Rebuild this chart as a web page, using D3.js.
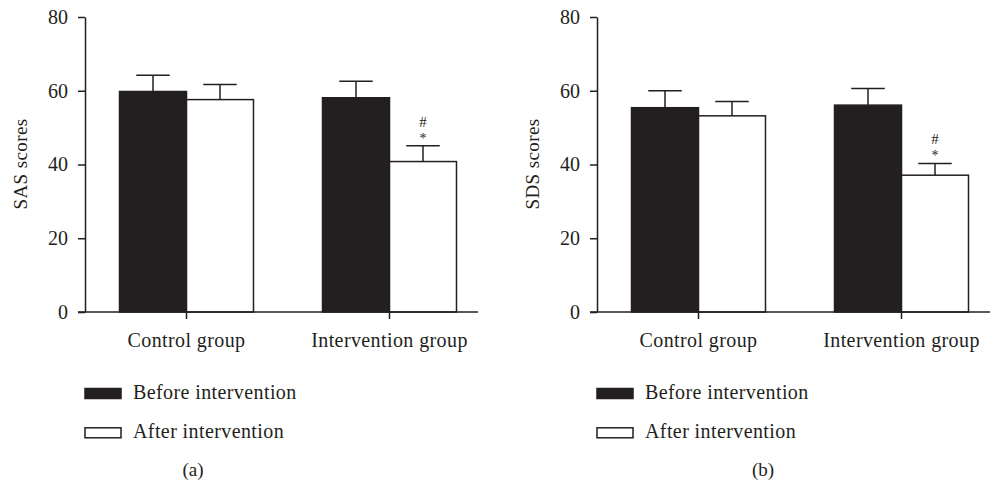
<!DOCTYPE html>
<html>
<head>
<meta charset="utf-8">
<script src="https://cdn.jsdelivr.net/npm/d3@7"></script>
<style>
body { margin: 0; background: #fff; }
svg { display: block; }
text { font-family: "Liberation Serif", "Times New Roman", serif; fill: #231f20; }
</style>
</head>
<body>
<svg id="chart" width="995" height="485" font-family="Liberation Serif, serif"></svg>
<script>
// Groups and series
var groups = ['Control group', 'Intervention group'];
var series_names = ['Before intervention', 'After intervention'];
var y_ticks = [0, 20, 40, 60, 80];

// SAS scores (mean, upper SD)
var sas_before = [59.8, 58.1];
var sas_before_sd = [4.4, 4.5];
var sas_after = [57.6, 40.8];
var sas_after_sd = [4.1, 4.3];

// SDS scores (mean, upper SD)
var sds_before = [55.4, 56.1];
var sds_before_sd = [4.6, 4.5];
var sds_after = [53.2, 37.1];
var sds_after_sd = [3.9, 3.2];

// significance marks shown over the "after" bar of each group
var sig_marks = [[], ['#', '*']];

var ink = '#231f20';
var svg = d3.select('#chart');

function draw_panel(left, title, label, label_x, before, before_sd, after, after_sd) {
    var g = svg.append('g').attr('transform', 'translate(' + left + ',0)');
    var y = d3.scaleLinear().domain([0, 80]).range([312, 17]);
    var x = d3.scaleBand().domain(groups).range([0, 406])
        .paddingInner(0.34).paddingOuter(0.17);
    var xs = d3.scaleBand().domain(series_names).range([0, x.bandwidth()]);

    var rows = [];
    groups.forEach(function (grp, i) {
        rows.push({ group: grp, series: series_names[0], value: before[i], sd: before_sd[i], marks: [] });
        rows.push({ group: grp, series: series_names[1], value: after[i], sd: after_sd[i], marks: sig_marks[i] });
    });

    // bars
    g.selectAll('.bar').data(rows).enter().append('rect')
        .attr('class', 'bar')
        .attr('x', function (d) { return x(d.group) + xs(d.series); })
        .attr('y', function (d) { return y(d.value); })
        .attr('width', xs.bandwidth())
        .attr('height', function (d) { return y(0) - y(d.value); })
        .attr('fill', function (d) { return d.series === series_names[0] ? ink : '#fff'; })
        .attr('stroke', ink)
        .attr('stroke-width', 1.5);

    // error bars (upper only)
    var eb = g.selectAll('.err').data(rows).enter().append('g').attr('class', 'err')
        .attr('stroke', ink).attr('stroke-width', 1.5);
    eb.append('line')
        .attr('x1', function (d) { return x(d.group) + xs(d.series) + xs.bandwidth() / 2; })
        .attr('x2', function (d) { return x(d.group) + xs(d.series) + xs.bandwidth() / 2; })
        .attr('y1', function (d) { return y(d.value); })
        .attr('y2', function (d) { return y(d.value + d.sd); });
    eb.append('line')
        .attr('x1', function (d) { return x(d.group) + xs(d.series) + xs.bandwidth() / 4; })
        .attr('x2', function (d) { return x(d.group) + xs(d.series) + xs.bandwidth() * 3 / 4; })
        .attr('y1', function (d) { return y(d.value + d.sd); })
        .attr('y2', function (d) { return y(d.value + d.sd); });

    // significance marks
    rows.forEach(function (d) {
        d.marks.forEach(function (m) {
            var top = y(d.value + d.sd);
            g.append('text')
                .attr('x', x(d.group) + xs(d.series) + xs.bandwidth() / 2)
                .attr('y', m === '*' ? top - 3 : top - 19)
                .attr('text-anchor', 'middle')
                .attr('font-size', m === '*' ? '14px' : '15px')
                .text(m);
        });
    });

    // y axis
    var y_axis = g.append('g').call(d3.axisLeft(y).tickValues(y_ticks)
        .tickSize(7).tickPadding(10).tickSizeOuter(0));
    y_axis.attr('font-family', null).attr('font-size', null);
    y_axis.select('.domain').attr('stroke', ink).attr('stroke-width', 1.5);
    y_axis.selectAll('.tick line').attr('stroke', ink).attr('stroke-width', 1.5);
    y_axis.selectAll('.tick text').attr('font-size', '20px').attr('fill', ink);

    // x axis line, extending left like a tick
    g.append('line').attr('x1', -7).attr('x2', 393).attr('y1', y(0)).attr('y2', y(0))
        .attr('stroke', ink).attr('stroke-width', 1.5);
    g.selectAll('.xtick').data(groups).enter().append('line')
        .attr('x1', function (d) { return x(d) + x.bandwidth() / 2; })
        .attr('x2', function (d) { return x(d) + x.bandwidth() / 2; })
        .attr('y1', y(0)).attr('y2', y(0) + 7)
        .attr('stroke', ink).attr('stroke-width', 1.5);
    g.selectAll('.xlabel').data(groups).enter().append('text')
        .attr('x', function (d) { return x(d) + x.bandwidth() / 2; })
        .attr('y', 347)
        .attr('text-anchor', 'middle')
        .attr('font-size', '20px')
        .style('letter-spacing', '0.4px')
        .text(function (d) { return d; });

    // y title
    g.append('text')
        .attr('transform', 'translate(-58,164) rotate(-90)')
        .attr('text-anchor', 'middle')
        .attr('font-size', '19px')
        .style('letter-spacing', '0.4px')
        .text(title);

    // legend
    var leg = g.selectAll('.leg').data(series_names).enter().append('g')
        .attr('transform', function (d, i) { return 'translate(0,' + (388.5 + i * 39.3) + ')'; });
    leg.append('rect')
        .attr('width', 36).attr('height', 10)
        .attr('fill', function (d, i) { return i === 0 ? ink : '#fff'; })
        .attr('stroke', ink).attr('stroke-width', 1.5);
    leg.append('text')
        .attr('x', 48).attr('y', 10.5)
        .attr('font-size', '20px')
        .style('letter-spacing', '0.4px')
        .text(function (d) { return d; });

    // panel label
    svg.append('text')
        .attr('x', label_x).attr('y', 476)
        .attr('text-anchor', 'middle')
        .attr('font-size', '19px')
        .text(label);
}

draw_panel(85, 'SAS scores', '(a)', 193, sas_before, sas_before_sd, sas_after, sas_after_sd);
draw_panel(597, 'SDS scores', '(b)', 763, sds_before, sds_before_sd, sds_after, sds_after_sd);
</script>
</body>
</html>
